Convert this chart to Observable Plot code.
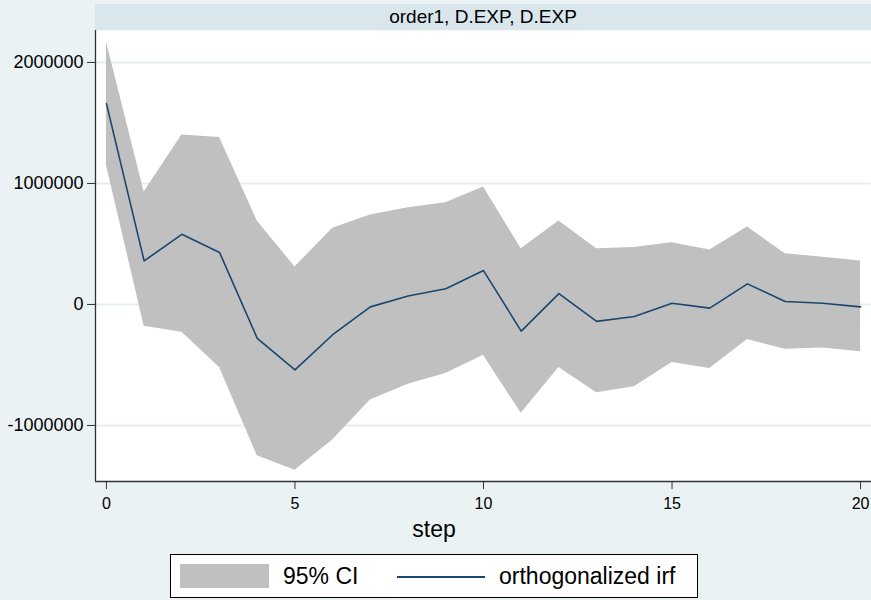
<!DOCTYPE html>
<html><head><meta charset="utf-8">
<script src="https://cdn.jsdelivr.net/npm/d3@7"></script>
<script src="https://cdn.jsdelivr.net/npm/@observablehq/plot@0.6"></script>
<style>
body{margin:0;background:#EAF2F3;font-family:"Liberation Sans",Arial,sans-serif;}
#wrap{position:relative;width:871px;height:600px;overflow:hidden;background:#EAF2F3;}
#chart{position:absolute;left:0;top:0;}
#strip{position:absolute;left:95px;top:4px;width:776px;height:26px;background:#D9E6EB;text-align:center;font-size:19px;line-height:26px;color:#000;}
#xtitle{position:absolute;left:0;width:868px;top:518px;line-height:23px;text-align:center;font-size:23px;color:#000;}
#legend{position:absolute;left:170px;top:554px;width:528px;height:44px;border:1px solid #000;background:#fff;box-sizing:border-box;}
#legend .sw{position:absolute;left:9px;top:9px;width:89px;height:24px;background:#C0C0C0;}
#legend .ln{position:absolute;left:226px;top:21px;width:88px;height:2px;background:#1A476F;}
#legend .t{position:absolute;top:0;line-height:42px;font-size:23px;white-space:nowrap;color:#000;}
</style></head>
<body>
<div id="wrap">
  <div id="chart"></div>
  <div id="strip"></div>
  <div id="xtitle"></div>
  <div id="legend"><div class="sw"></div><div class="t" id="lg1" style="left:112px"></div><div class="ln"></div><div class="t" id="lg2" style="left:328px"></div></div>
</div>
<script>
const panelTitle = "order1, D.EXP, D.EXP";
const xTitle = "step";
const legendLabels = ["95% CI", "orthogonalized irf"];
const steps = [0,1,2,3,4,5,6,7,8,9,10,11,12,13,14,15,16,17,18,19,20];
const irf   = [1660000, 360000, 580000, 430000, -280000, -540000, -250000, -20000, 70000, 130000, 280000, -220000, 90000, -140000, -100000, 10000, -30000, 170000, 25000, 10000, -20000];
const upper = [2170000, 930000, 1400000, 1380000, 690000, 310000, 630000, 740000, 800000, 840000, 970000, 460000, 690000, 460000, 470000, 510000, 450000, 640000, 420000, 390000, 360000];
const lower = [1150000, -180000, -230000, -520000, -1250000, -1370000, -1120000, -790000, -660000, -570000, -420000, -900000, -520000, -730000, -680000, -480000, -530000, -290000, -370000, -360000, -390000];
const yTicks = [-1000000, 0, 1000000, 2000000];
const xTicks = [0, 5, 10, 15, 20];

const data = steps.map((s, i) => ({step: s, irf: irf[i], lo: lower[i], hi: upper[i]}));
const xDom = [-0.29, 20.29];
const yDom = [-1463000, 2264000];

const chart = Plot.plot({
  width: 871, height: 600,
  marginTop: 30, marginBottom: 119, marginLeft: 95, marginRight: 0,
  style: {background: "transparent", fontFamily: "'Liberation Sans', Arial, sans-serif", color: "#000"},
  x: {domain: xDom, label: null},
  y: {domain: yDom, label: null},
  marks: [
    Plot.frame({fill: "white", stroke: "none"}),
    Plot.ruleY(yTicks, {stroke: "#E4EDF0", strokeWidth: 2}),
    Plot.areaY(data, {x: "step", y1: "lo", y2: "hi", fill: "#C0C0C0", curve: "linear"}),
    Plot.line(data, {x: "step", y: "irf", stroke: "#1A476F", strokeWidth: 1.6}),
    Plot.ruleX([xDom[0]], {stroke: "#333", strokeWidth: 1.3}),
    Plot.ruleY([yDom[0]], {stroke: "#333", strokeWidth: 1.3}),
    Plot.axisY(yTicks, {tickSize: 8, tickPadding: 4, fontSize: 18, tickFormat: d => String(d), label: null, stroke: "#333"}),
    Plot.axisX(xTicks, {tickSize: 8, tickPadding: 8, fontSize: 16, tickFormat: d => String(d), label: null, stroke: "#333"})
  ]
});
document.getElementById("chart").appendChild(chart);
document.getElementById("strip").textContent = panelTitle;
document.getElementById("xtitle").textContent = xTitle;
document.getElementById("lg1").textContent = legendLabels[0];
document.getElementById("lg2").textContent = legendLabels[1];
</script>
</body></html>
